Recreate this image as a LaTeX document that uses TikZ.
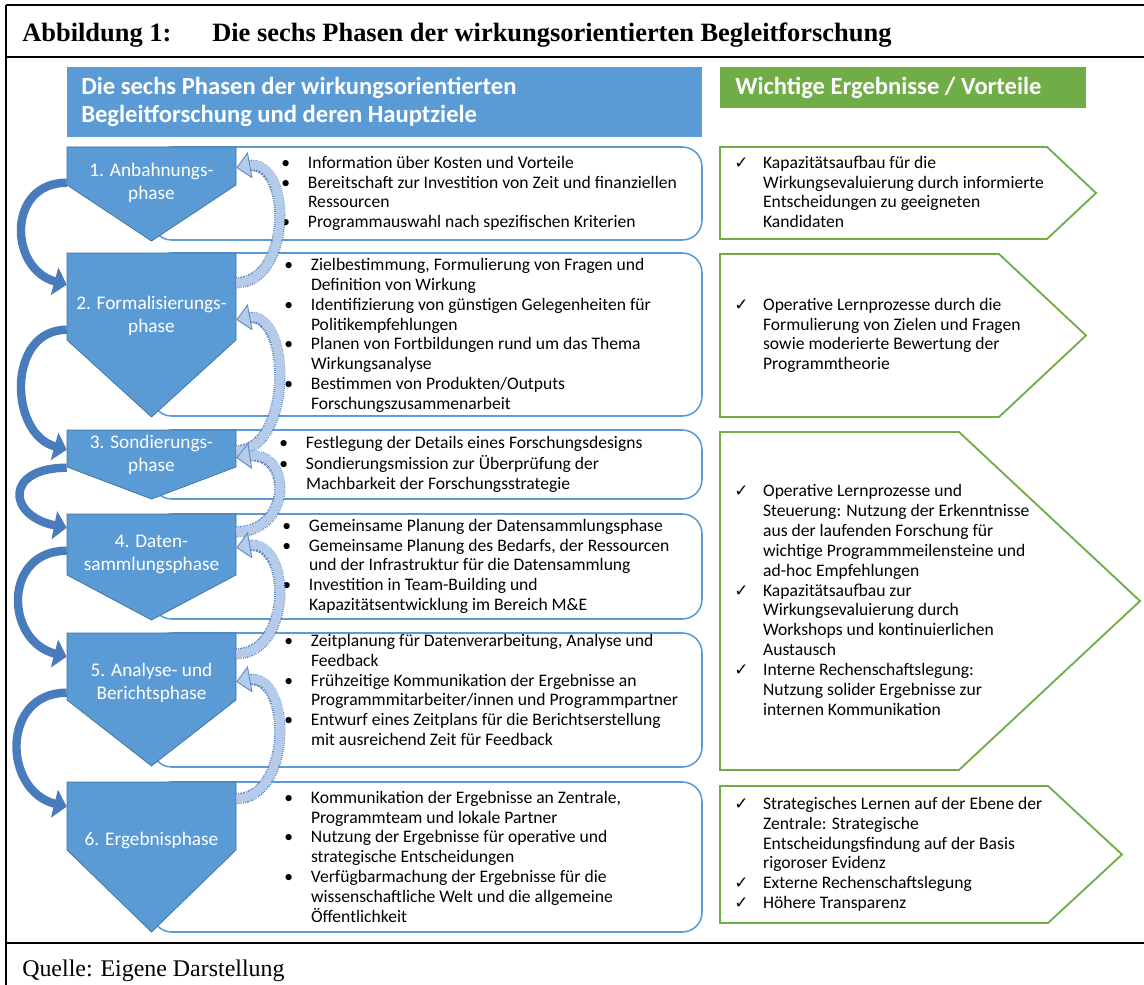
\documentclass[tikz,border=0pt]{standalone}
\usepackage{fontspec}
\setmainfont{Liberation Serif}
\newfontfamily\bodyfont{Carlito}
\newfontfamily\symfont{DejaVu Sans}
\usetikzlibrary{arrows.meta, calc, fit}
\definecolor{phaseblue}{RGB}{91,155,213}
\definecolor{phaseedge}{RGB}{65,113,156}
\definecolor{arrowblue}{RGB}{72,124,188}
\definecolor{backfill}{RGB}{180,203,234}
\definecolor{backrim}{RGB}{88,134,196}
\definecolor{resultgreen}{RGB}{112,173,71}
\newcommand{\ok}{{\symfont\fontsize{12}{10}\selectfont ✓}}
\tikzset{
  frame line/.style={line width=1.8pt},
  phase shape/.style={fill=phaseblue, draw=phaseedge, line width=0.5pt},
  phase area/.style={inner sep=0pt},
  phase label/.style={
    text=white,
    align=center,
    font=\bodyfont\fontsize{13.7}{16.4}\selectfont,
  },
  goal box/.style={
    draw=phaseblue,
    line width=1.1pt,
    rounded corners=14pt,
    fill=white,
    inner sep=0pt,
  },
  goal list/.style={anchor=west, inner sep=0pt, font=\bodyfont\fontsize{12.5}{14.2}\selectfont},
  result shape/.style={draw=resultgreen, line width=1.3pt, fill=white},
  head box/.style={inner sep=0pt},
  head text/.style={
    anchor=west,
    inner sep=0pt,
    text=white,
    align=left,
    font=\bodyfont\bfseries\fontsize{17.5}{20}\selectfont,
  },
  caption text/.style={anchor=base west, inner sep=0pt},
  forward arrow/.style={
    draw=arrowblue,
    line width=6pt,
    -{Triangle[width=20pt,length=9pt]},
  },
  back arrow/.style={
    draw=backfill,
    line width=6pt,
    preaction={draw=backrim, line width=8pt, dash pattern=on 0.7pt off 0.7pt, -, shorten >=8pt},
    -{Triangle[width=19pt,length=10pt,color=backrim,fill=backfill,line width=0.6pt]},
  },
}

\begin{document}
\begin{tikzpicture}[x=0.025cm, y=-0.025cm]
  \useasboundingbox (0,0) rectangle (1144,985);

  % frame
  \draw[frame line] (6,5) -- (1144,5);
  \draw[frame line] (6,57) -- (1144,57);
  \draw[frame line] (6,943) -- (1144,943);
  \draw[frame line] (6,5) -- (6,985);

  \node[caption text, font=\bfseries\fontsize{18.8}{22}\selectfont] (abb) at (22,42) {Abbildung 1:};
  \node[caption text, font=\bfseries\fontsize{18.8}{22}\selectfont] (title) at (212,42) {Die sechs Phasen der wirkungsorientierten Begleitforschung};
  \node[caption text, font=\fontsize{17}{20}\selectfont] (source) at (22,976) {Quelle: Eigene Darstellung};

  % headers
  \node[head box, fill=phaseblue, fit={(67,67) (702,137)}] (hb) {};
  \node[head text] (hbt) at (81,102) {Die sechs Phasen der wirkungsorientierten\\Begleitforschung und deren Hauptziele};
  \node[head box, fill=resultgreen, fit={(720,67) (1086,108)}] (hg) {};
  \node[head text] (hgt) at (735,88) {Wichtige Ergebnisse / Vorteile};

  % goal boxes
  \node[goal box, fit={(152,147) (702,240)}] (g1) {};
  \node[goal box, fit={(152,253) (702,416)}] (g2) {};
  \node[goal box, fit={(152,430) (702,499)}] (g3) {};
  \node[goal box, fit={(152,514) (702,619)}] (g4) {};
  \node[goal box, fit={(152,633) (702,767)}] (g5) {};
  \node[goal box, fit={(152,782) (702,932)}] (g6) {};

  \node[goal list] (t1) at (281,194) {\begin{tabular}{@{}p{19pt}@{}l@{}}
    \textbullet & Information über Kosten und Vorteile\\
    \textbullet & Bereitschaft zur Investition von Zeit und finanziellen\\
     & Ressourcen\\
    \textbullet & Programmauswahl nach spezifischen Kriterien
  \end{tabular}};
  \node[goal list] (t2) at (284,336) {\begin{tabular}{@{}p{19pt}@{}l@{}}
    \textbullet & Zielbestimmung, Formulierung von Fragen und\\
     & Definition von Wirkung\\
    \textbullet & Identifizierung von günstigen Gelegenheiten für\\
     & Politikempfehlungen\\
    \textbullet & Planen von Fortbildungen rund um das Thema\\
     & Wirkungsanalyse\\
    \textbullet & Bestimmen von Produkten/Outputs\\
     & Forschungszusammenarbeit
  \end{tabular}};
  \node[goal list] (t3) at (279,465) {\begin{tabular}{@{}p{19pt}@{}l@{}}
    \textbullet & Festlegung der Details eines Forschungsdesigns\\
    \textbullet & Sondierungsmission zur Überprüfung der\\
     & Machbarkeit der Forschungsstrategie
  \end{tabular}};
  \node[goal list] (t4) at (282,567) {\begin{tabular}{@{}p{19pt}@{}l@{}}
    \textbullet & Gemeinsame Planung der Datensammlungsphase\\
    \textbullet & Gemeinsame Planung des Bedarfs, der Ressourcen\\
     & und der Infrastruktur für die Datensammlung\\
    \textbullet & Investition in Team-Building und\\
     & Kapazitätsentwicklung im Bereich M\&E
  \end{tabular}};
  \node[goal list] (t5) at (284,692) {\begin{tabular}{@{}p{19pt}@{}l@{}}
    \textbullet & Zeitplanung für Datenverarbeitung, Analyse und\\
     & Feedback\\
    \textbullet & Frühzeitige Kommunikation der Ergebnisse an\\
     & Programmmitarbeiter/innen und Programmpartner\\
    \textbullet & Entwurf eines Zeitplans für die Berichtserstellung\\
     & mit ausreichend Zeit für Feedback
  \end{tabular}};
  \node[goal list] (t6) at (284,859) {\begin{tabular}{@{}p{19pt}@{}l@{}}
    \textbullet & Kommunikation der Ergebnisse an Zentrale,\\
     & Programmteam und lokale Partner\\
    \textbullet & Nutzung der Ergebnisse für operative und\\
     & strategische Entscheidungen\\
    \textbullet & Verfügbarmachung der Ergebnisse für die\\
     & wissenschaftliche Welt und die allgemeine\\
     & Öffentlichkeit
  \end{tabular}};

  % results
  \draw[result shape] (720,147) -- (1047,147) -- (1096,193) -- (1047,239) -- (720,239) -- cycle;
  \draw[result shape] (720,254) -- (999,254) -- (1086,335.5) -- (999,417) -- (720,417) -- cycle;
  \draw[result shape] (720,432) -- (959,432) -- (1140,601) -- (959,770) -- (720,770) -- cycle;
  \draw[result shape] (720,786) -- (1048,786) -- (1122,854.5) -- (1048,923) -- (720,923) -- cycle;

  \node[goal list] (r1) at (734,194) {\begin{tabular}{@{}p{20.5pt}@{}l@{}}
    \ok & Kapazitätsaufbau für die\\
     & Wirkungsevaluierung durch informierte\\
     & Entscheidungen zu geeigneten\\
     & Kandidaten
  \end{tabular}};
  \node[goal list] (r2) at (734,336) {\begin{tabular}{@{}p{20.5pt}@{}l@{}}
    \ok & Operative Lernprozesse durch die\\
     & Formulierung von Zielen und Fragen\\
     & sowie moderierte Bewertung der\\
     & Programmtheorie
  \end{tabular}};
  \node[goal list] (r3) at (734,602) {\begin{tabular}{@{}p{20.5pt}@{}l@{}}
    \ok & Operative Lernprozesse und\\
     & Steuerung: Nutzung der Erkenntnisse\\
     & aus der laufenden Forschung für\\
     & wichtige Programmmeilensteine und\\
     & ad-hoc Empfehlungen\\
    \ok & Kapazitätsaufbau zur\\
     & Wirkungsevaluierung durch\\
     & Workshops und kontinuierlichen\\
     & Austausch\\
    \ok & Interne Rechenschaftslegung:\\
     & Nutzung solider Ergebnisse zur\\
     & internen Kommunikation
  \end{tabular}};
  \node[goal list] (r4) at (734,855) {\begin{tabular}{@{}p{20.5pt}@{}l@{}}
    \ok & Strategisches Lernen auf der Ebene der\\
     & Zentrale: Strategische\\
     & Entscheidungsfindung auf der Basis\\
     & rigoroser Evidenz\\
    \ok & Externe Rechenschaftslegung\\
    \ok & Höhere Transparenz
  \end{tabular}};

  % phases
  \draw[phase shape] (67,147) -- (236,147) -- (236,185) -- (151.5,241) -- (67,185) -- cycle;
  \draw[phase shape] (67,253) -- (236,253) -- (236,340) -- (151.5,417) -- (67,340) -- cycle;
  \draw[phase shape] (67,430) -- (236,430) -- (236,467) -- (151.5,499) -- (67,467) -- cycle;
  \draw[phase shape] (67,514) -- (236,514) -- (236,575) -- (151.5,620) -- (67,575) -- cycle;
  \draw[phase shape] (67,633) -- (236,633) -- (236,700) -- (151.5,766) -- (67,700) -- cycle;
  \draw[phase shape] (67,782) -- (236,782) -- (236,850) -- (151.5,932) -- (67,850) -- cycle;

  \node[phase area, fit={(67,147) (236,241)}] (p1) {};
  \node[phase area, fit={(67,253) (236,417)}] (p2) {};
  \node[phase area, fit={(67,430) (236,499)}] (p3) {};
  \node[phase area, fit={(67,514) (236,620)}] (p4) {};
  \node[phase area, fit={(67,633) (236,766)}] (p5) {};
  \node[phase area, fit={(67,782) (236,932)}] (p6) {};

  \node[phase label] (l1) at (151.5,182.5) {1. Anbahnungs-\\phase};
  \node[phase label] (l2) at (151.5,316) {2. Formalisierungs-\\phase};
  \node[phase label] (l3) at (151.5,455) {3. Sondierungs-\\phase};
  \node[phase label] (l4) at (151.5,554.5) {4. Daten-\\sammlungsphase};
  \node[phase label] (l5) at (151.5,682.5) {5. Analyse- und\\Berichtsphase};
  \node[phase label] (l6) at (151.5,840) {6. Ergebnisphase};

  % forward: left side
  \draw[forward arrow] ($(p1.north west)+(0,36)$) .. controls +(-60,0) and +(-58,-16) .. ($(p2.north west)+(0,32)$);
  \draw[forward arrow] ($(p2.north west)+(0,77)$) .. controls +(-60,0) and +(-58,-16) .. ($(p3.north west)+(0,20)$);
  \draw[forward arrow] ($(p3.north west)+(0,38)$) .. controls +(-62,0) and +(-60,-12) .. ($(p4.north west)+(0,14)$);
  \draw[forward arrow] ($(p4.north west)+(0,37)$) .. controls +(-64,0) and +(-62,-16) .. ($(p5.north west)+(0,24)$);
  \draw[forward arrow] ($(p5.north west)+(0,60)$) .. controls +(-66,0) and +(-64,-16) .. ($(p6.north west)+(0,25)$);

  % feedback: right side
  \draw[back arrow] ($(p2.north east)+(0,30)$) .. controls +(56,0) and +(56,-10) .. ($(p1.north east)+(0,21)$);
  \draw[back arrow] ($(p3.north east)+(0,21)$) .. controls +(56,0) and +(56,-10) .. ($(p2.north east)+(0,67)$);
  \draw[back arrow] ($(p4.north east)+(0,18)$) .. controls +(56,0) and +(56,-8) .. ($(p3.north east)+(0,28)$);
  \draw[back arrow] ($(p5.north east)+(0,21)$) .. controls +(56,0) and +(56,-10) .. ($(p4.north east)+(0,34)$);
  \draw[back arrow] ($(p6.north east)+(0,17)$) .. controls +(56,0) and +(56,-10) .. ($(p5.north east)+(0,49)$);
\end{tikzpicture}
\end{document}
